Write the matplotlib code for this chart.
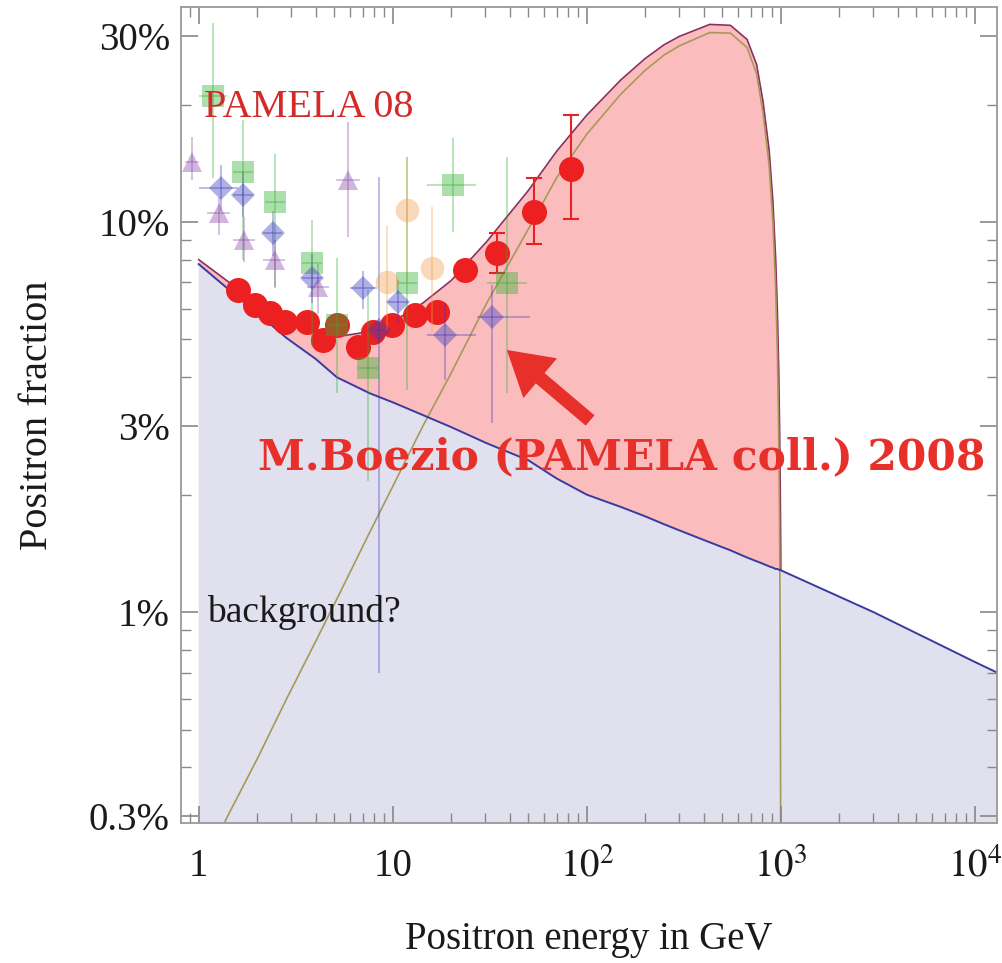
import numpy as np
import matplotlib.pyplot as plt
from matplotlib.ticker import FixedLocator, FixedFormatter, NullFormatter

plt.rcParams['font.family'] = ['Liberation Serif', 'DejaVu Serif']
plt.rcParams['mathtext.fontset'] = 'stix'

# model curves (positron fraction)
energy = np.array([1, 1.41, 2, 2.84, 4, 5.15, 7.6, 10, 14.3, 20, 30.5, 50, 70, 100, 150, 200,
                   250, 300, 430, 550, 670, 750, 810, 870, 910, 940, 960, 975, 985, 992, 997,
                   999.9, 3000, 10000, 13000])
background = np.array([7.8, 6.75, 5.85, 5.04, 4.46, 4.0, 3.64, 3.45, 3.2, 2.98, 2.71, 2.45, 2.2,
                       2.0, 1.86, 1.76, 1.68, 1.62, 1.51, 1.44, 1.38, 1.35, 1.33, 1.31, 1.30,
                       1.29, 1.29, 1.285, 1.283, 1.282, 1.281, 1.28, 1.0, 0.745, 0.70]) / 100
signal = np.array([0.21, 0.30, 0.42, 0.60, 0.84, 1.08, 1.6, 2.1, 3.0, 4.1, 6.2, 9.6, 13.0, 16.8,
                   21.3, 24.5, 26.8, 28.3, 30.6, 30.5, 28, 24, 19, 14, 10, 6.8, 4.6, 2.9, 1.7,
                   0.9, 0.35, 0.001, 0, 0, 0]) / 100

# PAMELA 08 (M.Boezio)
pam_e = [1.59, 1.94, 2.32, 2.78, 3.6, 4.36, 5.15, 6.6, 7.9, 9.9, 13.0, 16.9, 23.5, 34.4, 53.3, 82.7]
pam_f = [0.067, 0.0612, 0.0584, 0.0555, 0.0555, 0.0498, 0.0544, 0.0477, 0.0522, 0.0545, 0.0578,
         0.0588, 0.0753, 0.0833, 0.106, 0.137]
pam_lo = [0.066, 0.060, 0.057, 0.054, 0.054, 0.0485, 0.053, 0.0465, 0.051, 0.053, 0.056, 0.057,
          0.072, 0.074, 0.088, 0.102]
pam_hi = [0.068, 0.0624, 0.0598, 0.057, 0.057, 0.051, 0.0558, 0.049, 0.0535, 0.056, 0.0596,
          0.0606, 0.079, 0.0937, 0.130, 0.188]

# older experiments (faded)
sq_e = [1.18, 1.69, 2.46, 3.82, 5.15, 7.43, 11.9, 20.4, 38.7]
sq_f = [0.21, 0.134, 0.1125, 0.0785, 0.0544, 0.0422, 0.0698, 0.1244, 0.0698]
sq_lo = [0.13, 0.080, 0.068, 0.048, 0.0365, 0.0217, 0.037, 0.0943, 0.0365]
sq_hi = [0.324, 0.183, 0.149, 0.101, 0.081, 0.067, 0.147, 0.164, 0.147]
sq_xlo = [1.0, 1.5, 2.2, 3.4, 4.6, 6.6, 10.6, 15.0, 30.5]
sq_xhi = [1.4, 1.9, 2.8, 4.3, 5.8, 8.4, 13.4, 26.8, 49]

di_e = [1.31, 1.69, 2.41, 3.82, 7.0, 10.6, 18.5, 32.4, 8.47]
di_f = [0.1222, 0.1173, 0.0937, 0.0718, 0.0677, 0.0624, 0.0513, 0.0571, 0.0528]
di_lo = [0.107, 0.103, 0.082, 0.062, 0.060, 0.055, 0.0394, 0.0305, 0.00698]
di_hi = [0.14, 0.134, 0.107, 0.083, 0.075, 0.071, 0.062, 0.069, 0.1303]
di_xlo = [1.0, 1.5, 2.15, 3.4, 6.0, 9.4, 15.0, 27.1, 8.0]
di_xhi = [1.6, 1.9, 2.7, 4.3, 8.3, 12.0, 26.8, 50.8, 9.0]

tr_e = [0.92, 1.27, 1.71, 2.46, 4.11, 5.86]
tr_f = [0.1425, 0.1054, 0.0899, 0.0799, 0.0681, 0.128]
tr_lo = [0.128, 0.0926, 0.079, 0.0677, 0.058, 0.0916]
tr_hi = [0.165, 0.116, 0.103, 0.09, 0.078, 0.180]
tr_xlo = [0.85, 1.1, 1.5, 2.15, 3.6, 5.1]
tr_xhi = [1.0, 1.45, 1.95, 2.8, 4.7, 6.8]

ci_e = [9.31, 11.9, 15.9]
ci_f = [0.0701, 0.1073, 0.0762]
ci_lo = [0.0528, 0.07, 0.052]
ci_hi = [0.0983, 0.147, 0.109]

yticks = [0.003, 0.01, 0.03, 0.1, 0.3]
ytick_labels = ['0.3%', '1%', '3%', '10%', '30%']
xticks = [1, 10, 100, 1000, 10000]
xtick_labels = ['1', '10', '$10^2$', '$10^3$', '$10^4$']


def asym(c, lo, hi):
    c, lo, hi = map(np.asarray, (c, lo, hi))
    return [c - lo, hi - c]


fig = plt.figure(figsize=(10.02, 9.63), dpi=100)
ax = fig.add_axes([0.1806, 0.1454, 0.8144, 0.8474])
ax.set_xscale('log')
ax.set_yscale('log')

total = background + signal
inside = energy <= 1000
ax.fill_between(energy, 1e-5, background, color='#e0e0ee', lw=0, zorder=0)
ax.fill_between(energy[inside], background[inside], total[inside], color='#fbbcbe', lw=0, zorder=0)
ax.plot(energy[inside], total[inside], color='#8a3060', lw=1.2, zorder=1)
ax.plot(energy, signal, color='#a89858', lw=1.2, zorder=1)
ax.plot(energy, background, color='#3a3aa0', lw=1.4, zorder=1)

ax.errorbar(pam_e, pam_f, yerr=asym(pam_f, pam_lo, pam_hi), fmt='o', color='#ec2020',
            ms=17, capsize=6, elinewidth=1.5, capthick=1.5, zorder=3)

faded = dict(alpha=0.4, elinewidth=1.2, capsize=4, capthick=1.2, mew=0, zorder=4)
ax.errorbar(sq_e, sq_f, yerr=asym(sq_f, sq_lo, sq_hi), xerr=asym(sq_e, sq_xlo, sq_xhi),
            fmt='s', color='#30b030', ms=16, **faded)
ax.errorbar(di_e, di_f, yerr=asym(di_f, di_lo, di_hi), xerr=asym(di_e, di_xlo, di_xhi),
            fmt='D', color='#3a3ac0', ms=12, **faded)
ax.errorbar(tr_e, tr_f, yerr=asym(tr_f, tr_lo, tr_hi), xerr=asym(tr_e, tr_xlo, tr_xhi),
            fmt='^', color='#8a4aa8', ms=15, **faded)
ax.errorbar(ci_e, ci_f, yerr=asym(ci_f, ci_lo, ci_hi),
            fmt='o', color='#f2a050', ms=17, **faded)

ax.set_xlim(0.81, 13000)
ax.set_ylim(0.00288, 0.356)

ax.yaxis.set_major_locator(FixedLocator(yticks))
ax.yaxis.set_major_formatter(FixedFormatter(ytick_labels))
yminor = [m * 10.0 ** k for k in (-3, -2, -1) for m in range(2, 10)]
ax.yaxis.set_minor_locator(FixedLocator([v for v in yminor if v not in yticks]))
ax.yaxis.set_minor_formatter(NullFormatter())
ax.xaxis.set_major_locator(FixedLocator(xticks))
ax.xaxis.set_major_formatter(FixedFormatter(xtick_labels))
xminor = [m * 10.0 ** k for k in (-1, 0, 1, 2, 3, 4) for m in range(2, 10)]
ax.xaxis.set_minor_locator(FixedLocator(xminor))
ax.xaxis.set_minor_formatter(NullFormatter())

ax.tick_params(which='both', direction='in', top=True, right=True, color='#888888',
               labelcolor='#1a1a1a', labelsize=28)
ax.tick_params(which='major', length=12, width=1.2)
ax.tick_params(which='minor', length=7, width=1.0)
ax.tick_params(axis='x', pad=18)
ax.tick_params(axis='y', pad=8)
for s in ax.spines.values():
    s.set_color('#999999')
    s.set_linewidth(1.3)

ax.set_xlabel('Positron energy in GeV', fontsize=28, labelpad=26, color='#1a1a1a')
ax.set_ylabel('Positron fraction', fontsize=29, labelpad=24, color='#1a1a1a')

ax.text(1.07, 0.186, 'PAMELA 08', fontsize=29, color='#d42a2a', va='baseline', zorder=5)
ax.text(1.11, 0.0100, 'background?', fontsize=27, color='#1a1a1a', va='center', zorder=5)

boezio = ax.text(2.01, 0.0249, 'M.Boezio (PAMELA coll.) 2008', fontsize=27, color='#e8302a',
                 fontweight='bold', family=['DejaVu Serif'], va='center', zorder=5)
fig.canvas.draw()
w = boezio.get_window_extent().width
boezio.set_fontsize(27 * 727 / w)

ax.annotate('', xy=(38.7, 0.047), xytext=(104, 0.031),
            arrowprops=dict(arrowstyle='simple,head_width=2.5,head_length=2.1,tail_width=0.65',
                            mutation_scale=15, color='#e8302a', lw=0, shrinkA=0, shrinkB=0),
            zorder=5)

fig.savefig('out.png', dpi=100)
